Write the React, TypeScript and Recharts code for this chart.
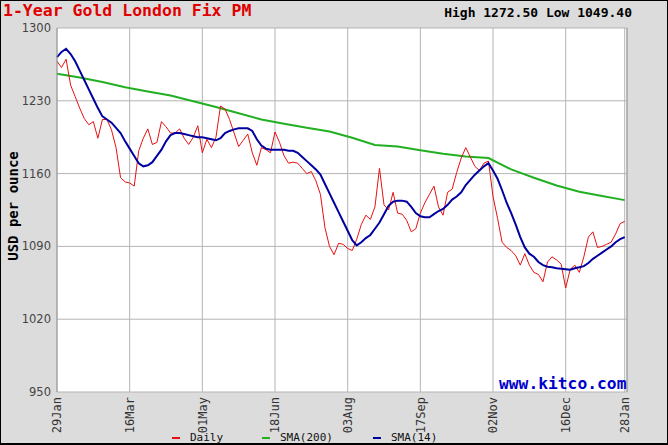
import { LineChart, Line, XAxis, YAxis, CartesianGrid } from "recharts";

// layout of the kitco image
const W = 668;
const H = 445;
const PLOT_TOP = 28;
const PLOT_BOTTOM = 392;
const LEFT_W = 57;
const RIGHT_W = 41;

const MONO = "'DejaVu Sans Mono', monospace";

// x positions are trading days since 29 Jan
const tickDays = [0, 32, 64, 96, 128, 160, 192, 224, 250];
const tickLabels = ["29Jan", "16Mar", "01May", "18Jun", "03Aug", "17Sep", "02Nov", "16Dec", "28Jan"];
const priceTicks = [950, 1020, 1090, 1160, 1230, 1300];

// daily fix, every second trading day
const days = Array.from({ length: 126 }, (_, k) => k * 2);
const daily = [
  1268, 1262, 1270, 1245, 1234, 1223, 1213, 1207, 1210, 1194,
  1212, 1212, 1202, 1185, 1156, 1152, 1151, 1148, 1182, 1194,
  1203, 1188, 1190, 1210, 1205, 1199, 1199, 1203, 1194, 1188,
  1195, 1206, 1180, 1193, 1185, 1195, 1225, 1222, 1212, 1199,
  1186, 1192, 1198, 1180, 1168, 1185, 1183, 1180, 1200, 1190,
  1177, 1170, 1171, 1170, 1165, 1160, 1162, 1153, 1140, 1108,
  1090, 1082, 1093, 1092, 1088, 1086, 1097, 1111, 1120, 1116,
  1128, 1165, 1130, 1125, 1142, 1122, 1121, 1115, 1104, 1107,
  1122, 1132, 1140, 1148, 1128, 1120, 1142, 1145, 1161, 1175,
  1185, 1176, 1167, 1163, 1170, 1172, 1138, 1117, 1094, 1089,
  1086, 1081, 1072, 1083, 1072, 1065, 1063, 1056, 1075, 1080,
  1077, 1073, 1050, 1068, 1072, 1065, 1080, 1099, 1104, 1089,
  1090, 1092, 1094, 1102, 1112, 1114,
];
const sma14 = [
  1272, 1277, 1280, 1275, 1268, 1259, 1250, 1241, 1232, 1223,
  1215, 1212, 1209, 1204, 1199, 1191, 1184, 1177, 1170, 1167,
  1168, 1171, 1177, 1183, 1191, 1197, 1199, 1199, 1198, 1197,
  1196, 1195, 1195, 1194, 1193, 1192, 1194, 1199, 1201, 1202.5,
  1203.5, 1203.5, 1203.5, 1201, 1193, 1187, 1184, 1183, 1183, 1183,
  1183, 1182, 1182, 1180, 1176, 1172, 1168, 1164, 1159, 1150,
  1141, 1132, 1123, 1114, 1105, 1096, 1091, 1094, 1098, 1101,
  1107, 1113, 1121, 1129, 1133, 1134, 1134, 1133, 1128, 1122,
  1119, 1118, 1118, 1121, 1124, 1126, 1130, 1135, 1138, 1142,
  1149, 1154, 1159, 1163, 1167, 1170, 1163, 1155, 1144, 1132,
  1122, 1111, 1099, 1089, 1083, 1080, 1075, 1072, 1070.5, 1070,
  1069, 1068.5, 1068, 1067.5, 1069, 1070, 1071, 1074, 1078, 1081,
  1084, 1087, 1090, 1094, 1097, 1099,
];

// 200-day average, read every ten trading days
const sma200Days = [0, 10, 20, 30, 40, 50, 60, 70, 80, 90, 100, 110, 120, 130, 140, 150, 160, 170, 180, 190, 200, 210, 220, 230, 240, 250];
const sma200 = [
  1256, 1252.5, 1248, 1243, 1239, 1235, 1229.5, 1224, 1218, 1212,
  1208, 1204, 1200.5, 1194.5, 1187.5, 1186, 1182.5, 1179, 1176.5, 1175,
  1164, 1156, 1148.5, 1142.5, 1138.5, 1134.5,
];

const rows = days.map((d, k) => ({ day: d, daily: daily[k], sma14: sma14[k] }));
const trendRows = sma200Days.map((d, k) => ({ day: d, sma200: sma200[k] }));

const legendItems = [
  { name: "Daily", color: "#e81010", x: 172 },
  { name: "SMA(200)", color: "#22b022", x: 262 },
  { name: "SMA(14)", color: "#0000a0", x: 373 },
];

function DateTick(props: any) {
  const { x, payload } = props;
  const label = tickLabels[tickDays.indexOf(payload.value)];
  const y = PLOT_BOTTOM + 5;
  return (
    <text
      x={x}
      y={y}
      transform={`rotate(-90 ${x} ${y})`}
      textAnchor="end"
      dy="0.35em"
      fontFamily={MONO}
      fontSize={12}
      fill="#333"
    >
      {label}
    </text>
  );
}

function LeftTick(props: any) {
  const { y, payload } = props;
  return (
    <text x={51} y={y} dy="0.35em" textAnchor="end" fontFamily="'DejaVu Sans', sans-serif" fontSize={11.5} fill="#444">
      {payload.value}
    </text>
  );
}

function RightTick(props: any) {
  const { y, payload } = props;
  return (
    <text x={630} y={y} dy="0.35em" textAnchor="start" fontFamily="'DejaVu Sans', sans-serif" fontSize={11.5} fill="#444">
      {payload.value}
    </text>
  );
}

export default function App() {
  return (
    <div style={{ position: "relative", width: W, height: H, background: "#dcdcdc", overflow: "hidden" }}>
      <style>{`body{margin:0}`}</style>
      <LineChart
        width={W}
        height={H}
        data={rows}
        margin={{ top: PLOT_TOP, right: 0, bottom: 0, left: 0 }}
      >
        <CartesianGrid stroke="#b4b4b4" fill="#ffffff" />
        <XAxis
          type="number"
          dataKey="day"
          domain={[0, 251]}
          ticks={tickDays}
          interval={0}
          height={H - PLOT_BOTTOM}
          tick={<DateTick />}
          tickLine={false}
          axisLine={false}
        />
        <YAxis
          domain={[950, 1300]}
          ticks={priceTicks}
          width={LEFT_W}
          tick={<LeftTick />}
          tickLine={false}
          axisLine={{ stroke: "#999" }}
          allowDataOverflow
        />
        <YAxis
          yAxisId="r"
          orientation="right"
          domain={[950, 1300]}
          ticks={priceTicks}
          width={RIGHT_W}
          tick={<RightTick />}
          tickLine={false}
          axisLine={{ stroke: "#999" }}
        />
        <Line
          data={trendRows}
          dataKey="sma200"
          stroke="#22b022"
          strokeWidth={2}
          dot={false}
          isAnimationActive={false}
        />
        <Line dataKey="daily" stroke="#e81010" strokeWidth={1} dot={false} isAnimationActive={false} />
        <Line dataKey="sma14" stroke="#0000a0" strokeWidth={2} dot={false} isAnimationActive={false} />
      </LineChart>

      <div style={{ position: "absolute", left: 3, top: 2, fontFamily: MONO, fontSize: 16.5, fontWeight: "bold", color: "#e00000", lineHeight: "18px" }}>
        1-Year Gold London Fix PM
      </div>
      <div style={{ position: "absolute", right: 36, top: 5, fontFamily: MONO, fontSize: 13, fontWeight: "bold", color: "#000", lineHeight: "15px" }}>
        High 1272.50 Low 1049.40
      </div>
      <div
        style={{
          position: "absolute",
          left: 13,
          top: 206,
          transform: "translate(-50%, -50%) rotate(-90deg)",
          whiteSpace: "nowrap",
          fontFamily: MONO,
          fontSize: 14,
          fontWeight: "bold",
          color: "#000",
          lineHeight: "14px",
        }}
      >
        USD per ounce
      </div>
      <div style={{ position: "absolute", left: 499, top: 376, fontFamily: MONO, fontSize: 16.3, fontWeight: "bold", color: "#0000cc", lineHeight: "16px" }}>
        www.kitco.com
      </div>
      {legendItems.map((it) => (
        <div key={it.name} style={{ position: "absolute", left: it.x, top: 431, display: "flex", alignItems: "center", fontFamily: MONO, fontSize: 11, color: "#111", lineHeight: "13px", whiteSpace: "nowrap" }}>
          <span style={{ display: "inline-block", width: 8, height: 2, background: it.color, marginRight: 10 }} />
          {it.name}
        </div>
      ))}
      <div style={{ position: "absolute", inset: 0, borderStyle: "solid", borderColor: "#000", borderWidth: "1px 1px 2px 1px", pointerEvents: "none" }} />
    </div>
  );
}
